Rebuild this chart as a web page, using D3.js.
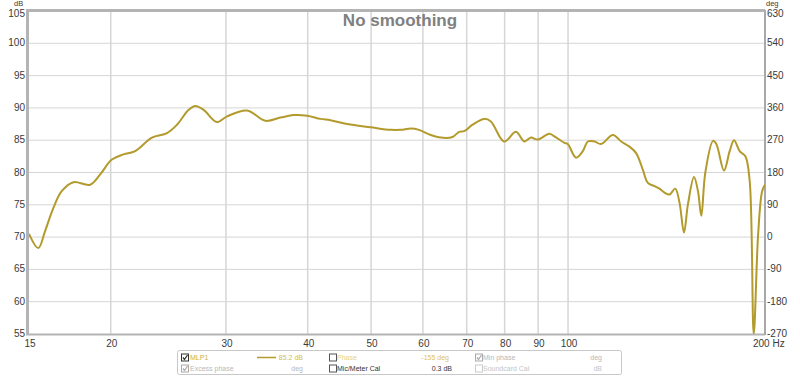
<!DOCTYPE html>
<html lang="en">
<head>
<meta charset="UTF-8">
<title>No smoothing</title>
<style>
  body { margin: 0; background: #fff; }
  svg { display: block; font-family: "Liberation Sans", Arial, sans-serif; }
</style>
</head>
<body>
<div id="chart"></div>
<script src="https://d3js.org/d3.v7.min.js"></script>
<script>
// frequency (Hz) and level (dB)
const freqs = [15.00, 15.50, 15.87, 16.34, 16.83, 17.54, 18.60, 19.27, 20.08, 20.92,
  21.80, 23.12, 24.38, 25.25, 26.31, 26.93, 27.73, 29.07, 30.12, 32.32,
  34.47, 36.35, 38.09, 39.93, 41.85, 43.35, 45.98, 49.92, 53.58, 55.50,
  57.49, 59.19, 61.69, 63.90, 66.59, 68.16, 69.38, 71.46, 74.45, 76.22,
  79.87, 83.25, 85.72, 87.76, 89.87, 93.62, 95.28, 98.70, 99.89, 102.85,
  105.32, 107.20, 109.73, 112.33, 117.06, 120.56, 124.14, 127.08, 130.13, 132.43,
  135.55, 137.97, 140.41, 142.92, 145.82, 148.05, 150.38, 152.50, 155.78, 157.98,
  159.84, 162.11, 166.57, 168.51, 173.14, 176.61, 179.36, 182.95, 186.65, 189.51,
  192.22, 195.22, 197.99, 200.00];
const spl = [70.5, 68.3, 70.9, 74.5, 77.1, 78.5, 78.1, 79.7, 82.0, 82.8,
  83.3, 85.4, 86.1, 87.4, 89.7, 90.3, 89.7, 87.8, 88.7, 89.6,
  88.0, 88.5, 88.9, 88.8, 88.3, 88.1, 87.5, 87.0, 86.6, 86.6,
  86.8, 86.6, 85.8, 85.4, 85.5, 86.3, 86.4, 87.4, 88.3, 87.9,
  84.8, 86.3, 84.8, 85.4, 85.1, 86.0, 85.6, 84.6, 84.4, 82.3,
  83.3, 84.8, 84.8, 84.4, 85.8, 84.8, 84.0, 83.0, 80.4, 78.4,
  77.9, 77.5, 76.9, 76.6, 77.5, 75.3, 70.7, 75.1, 79.3, 77.1,
  73.3, 80.0, 84.9, 84.4, 80.3, 83.3, 85.0, 83.3, 82.5, 78.7,
  55.0, 70.4, 77.1, 78.1];

const xTicks = [15, 20, 30, 40, 50, 60, 70, 80, 90, 100, 200];
const dbTicks = [55, 60, 65, 70, 75, 80, 85, 90, 95, 100, 105];
const degTicks = [-270, -180, -90, 0, 90, 180, 270, 360, 450, 540, 630];

const W = 800, H = 376;
const plot = { left: 29, right: 765, top: 11, bottom: 334 };

const svg = d3.select("#chart").append("svg")
  .attr("width", W).attr("height", H);

const x = d3.scaleLog().domain([15, 200]).range([plot.left, plot.right]);
const y = d3.scaleLinear().domain([55, 105]).range([plot.bottom, plot.top]);
const yDeg = d3.scaleLinear().domain([-270, 630]).range([plot.bottom, plot.top]);

// grid
svg.append("g")
  .selectAll("line").data(dbTicks.slice(1, -1)).join("line")
  .attr("x1", plot.left).attr("x2", plot.right)
  .attr("y1", d => y(d)).attr("y2", d => y(d))
  .attr("stroke", "#d6d6d6").attr("stroke-width", 1);
svg.append("g")
  .selectAll("line").data(xTicks.slice(1, -1)).join("line")
  .attr("x1", d => x(d)).attr("x2", d => x(d))
  .attr("y1", plot.top).attr("y2", plot.bottom)
  .attr("stroke", "#d6d6d6").attr("stroke-width", 1.5);

// frame
svg.append("line").attr("x1", plot.left).attr("x2", plot.right)
  .attr("y1", plot.bottom + 0.5).attr("y2", plot.bottom + 0.5)
  .attr("stroke", "#b4b4b4").attr("stroke-width", 2);
svg.append("line").attr("x1", plot.right).attr("x2", plot.right)
  .attr("y1", plot.top - 1).attr("y2", plot.bottom + 1)
  .attr("stroke", "#a8a8a8").attr("stroke-width", 2);
svg.append("line").attr("x1", plot.left - 1.5).attr("x2", plot.right)
  .attr("y1", plot.top - 0.5).attr("y2", plot.top - 0.5)
  .attr("stroke", "#b4b4b4").attr("stroke-width", 3);
svg.append("line").attr("x1", plot.left - 1.5).attr("x2", plot.left - 1.5)
  .attr("y1", plot.top - 2).attr("y2", plot.bottom + 1.5)
  .attr("stroke", "#b4b4b4").attr("stroke-width", 3);

// axes labels
const tickFont = g => g.attr("font-size", 10).attr("fill", "#3a3a3a");

svg.append("g").call(tickFont)
  .selectAll("text").data(dbTicks).join("text")
  .attr("x", 25).attr("y", d => y(d) + (d === 105 ? 5.5 : 3))
  .attr("text-anchor", "end").text(d => d);
svg.append("text").call(tickFont).attr("font-size", 7.5)
  .attr("x", 14).attr("y", 5.5).text("dB");

svg.append("g").call(tickFont)
  .selectAll("text").data(degTicks).join("text")
  .attr("x", 767).attr("y", d => yDeg(d) + (d === 630 ? 5.5 : 3))
  .text(d => d);
svg.append("text").call(tickFont).attr("font-size", 7.5)
  .attr("x", 766).attr("y", 5.5).text("deg");

svg.append("g").call(tickFont)
  .selectAll("text").data(xTicks).join("text")
  .attr("x", d => d === 200 ? x(d) - 12 : x(d) + 1)
  .attr("y", 347)
  .attr("text-anchor", d => d === 200 ? "start" : "middle")
  .text(d => d === 200 ? "200 Hz" : d);

// title
svg.append("text")
  .attr("x", 400).attr("y", 26)
  .attr("text-anchor", "middle")
  .attr("font-size", 17).attr("font-weight", "bold")
  .attr("fill", "#808080")
  .text("No smoothing");

// curve
svg.append("clipPath").attr("id", "clip")
  .append("rect").attr("x", plot.left).attr("y", plot.top)
  .attr("width", plot.right - plot.left).attr("height", plot.bottom - plot.top);

const pts = freqs.map((f, i) => [f, spl[i]]);
svg.append("path")
  .datum(pts)
  .attr("clip-path", "url(#clip)")
  .attr("fill", "none")
  .attr("stroke", "#b29a2c")
  .attr("stroke-width", 2)
  .attr("stroke-linejoin", "round")
  .attr("d", d3.line()
    .curve(d3.curveCatmullRom.alpha(0.5))
    .x(d => x(d[0]))
    .y(d => y(d[1])));

// legend box
const lg = svg.append("g").attr("font-size", 7);
lg.append("rect").attr("x", 177.5).attr("y", 350.5).attr("width", 444).attr("height", 24)
  .attr("rx", 2).attr("fill", "#fff").attr("stroke", "#c8c8c8");

function checkbox(cx, cy, checked, color) {
  lg.append("rect").attr("x", cx + 0.5).attr("y", cy - 3.5).attr("width", 7).attr("height", 7)
    .attr("fill", "#fff").attr("stroke", color);
  if (checked) {
    lg.append("path")
      .attr("d", `M${cx + 2},${cy} L${cx + 3.5},${cy + 2} L${cx + 6.5},${cy - 2.5}`)
      .attr("fill", "none").attr("stroke", color).attr("stroke-width", 1.3);
  }
}
function label(tx, ty, str, color, anchor) {
  lg.append("text").attr("x", tx).attr("y", ty + 2.5)
    .attr("text-anchor", anchor || "start").attr("fill", color).text(str);
}

const r1 = 357.5, r2 = 368.5;
checkbox(181, r1, true, "#333");
label(190, r1, "MLP1", "#c9b24a");
lg.append("line").attr("x1", 257).attr("x2", 276).attr("y1", r1).attr("y2", r1)
  .attr("stroke", "#b29a2c").attr("stroke-width", 1.5);
label(303, r1, "85.2 dB", "#d2bd52", "end");
checkbox(329, r1, false, "#555");
label(337, r1, "Phase", "#e8d37a");
label(449, r1, "-155 deg", "#e0c25a", "end");
checkbox(475, r1, true, "#aaa");
label(483, r1, "Min phase", "#b8b8b8");
label(602, r1, "deg", "#b8b8b8", "end");

checkbox(181, r2, true, "#aaa");
label(190, r2, "Excess phase", "#b8b8b8");
label(303, r2, "deg", "#b8b8b8", "end");
checkbox(329, r2, false, "#555");
label(337, r2, "Mic/Meter Cal", "#333");
label(452, r2, "0.3 dB", "#333", "end");
checkbox(475, r2, false, "#ccc");
label(483, r2, "Soundcard Cal", "#c4c4c4");
label(602, r2, "dB", "#c4c4c4", "end");
</script>
</body>
</html>
